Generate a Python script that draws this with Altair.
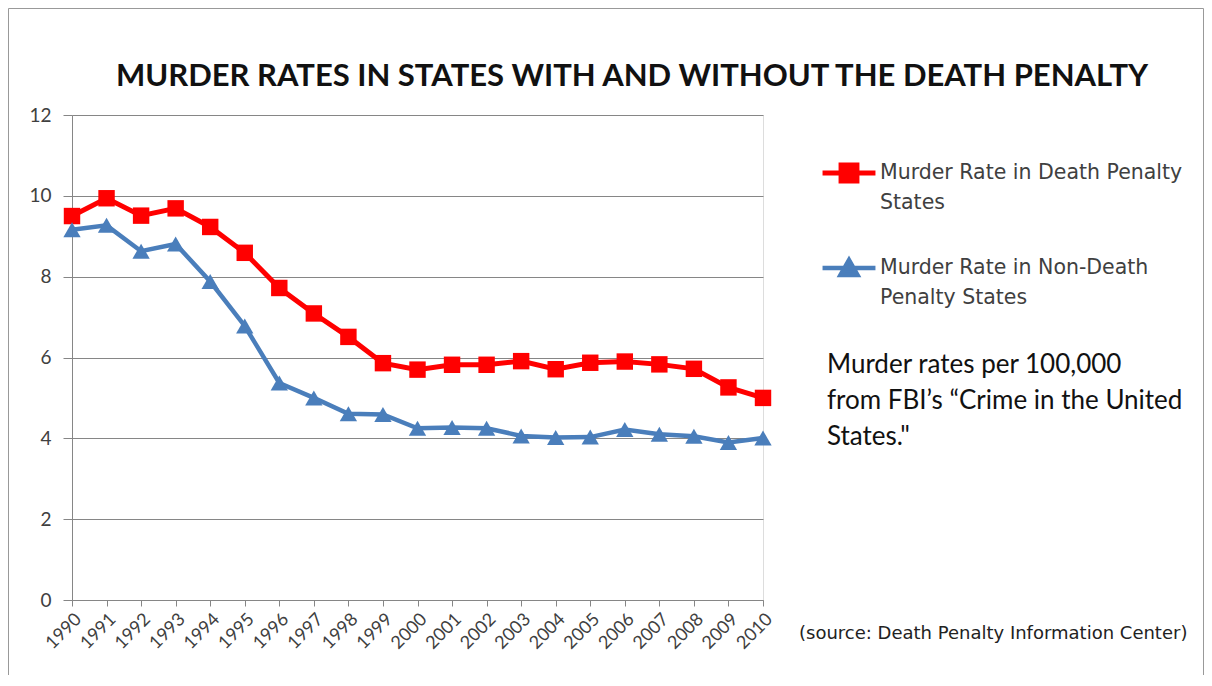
import altair as alt
import pandas as pd

years = list(range(1990, 2011))
death_penalty = [9.50, 9.94, 9.51, 9.69, 9.23, 8.59, 7.72, 7.09, 6.51, 5.86, 5.70,
                 5.82, 5.82, 5.91, 5.71, 5.87, 5.90, 5.83, 5.72, 5.26, 5.00]
non_death_penalty = [9.16, 9.27, 8.63, 8.81, 7.88, 6.78, 5.37, 5.00, 4.61, 4.59, 4.25,
                     4.27, 4.25, 4.06, 4.02, 4.03, 4.22, 4.10, 4.05, 3.90, 4.01]
series_names = ["Murder Rate in Death Penalty States",
                "Murder Rate in Non-Death Penalty States"]
series_lines = [["Murder Rate in Death Penalty", "States"],
                ["Murder Rate in Non-Death", "Penalty States"]]
series_colors = ["#ff0000", "#4a7ebb"]
series_shapes = ["square", "triangle-up"]
y_ticks = [0, 2, 4, 6, 8, 10, 12]
title_text = "MURDER RATES IN STATES WITH AND WITHOUT THE DEATH PENALTY"
note_lines = ["Murder rates per 100,000", "from FBI\u2019s \u201cCrime in the United", "States.\""]
source_text = "(source: Death Penalty Information Center)"

rows = []
for name, vals in zip(series_names, [death_penalty, non_death_penalty]):
    for y, v in zip(years, vals):
        rows.append({"year": y, "rate": v, "series": name})
df = pd.DataFrame(rows)

label_expr = (
    f"datum.label == '{series_names[0]}' ? {series_lines[0]} : {series_lines[1]}"
)
# legend glyphs: line with marker in the middle
path_sq = "M-1,0.38L-0.3,0.38M0.3,0.38L1,0.38M-0.3,0.08L0.3,0.08L0.3,0.68L-0.3,0.68Z"
path_tri = "M-1,0.38L1,0.38M-0.32,0.64L0,0.08L0.32,0.64Z"

legend = alt.Legend(
    title=None, orient="none", legendX=748, legendY=19, direction="vertical",
    labelExpr=label_expr, labelFont="DejaVu Sans", labelFontSize=20.5, labelColor="#404040",
    labelLimit=400, labelBaseline="top", labelOffset=2, rowPadding=15,
    symbolSize=2800, symbolStrokeWidth=4, symbolOpacity=1,
)

color_scale = alt.Scale(domain=series_names, range=series_colors)

x_enc = alt.X("year:Q", scale=alt.Scale(domain=[1990, 2010], nice=False, zero=False),
              axis=alt.Axis(values=years, format="d", labelAngle=-45, grid=False,
                            tickSize=6, tickColor="#868686", domainColor="#868686",
                            labelFont="Lato", labelFontSize=18, labelColor="#404040",
                            labelPadding=4, title=None, labelOverlap=False))
y_enc = alt.Y("rate:Q", scale=alt.Scale(domain=[0, 12], nice=False),
              axis=alt.Axis(values=y_ticks, grid=True, gridColor="#868686", gridWidth=1,
                            tickSize=9, tickColor="#868686", domainColor="#868686",
                            labelFont="Lato", labelFontSize=19, labelColor="#404040",
                            labelPadding=12, title=None))

base = alt.Chart(df)
lines = base.mark_line().encode(
    x=x_enc, y=y_enc,
    color=alt.Color("series:N", scale=color_scale, legend=legend),
    strokeWidth=alt.StrokeWidth("series:N", scale=alt.Scale(domain=series_names, range=[5, 4.5]), legend=None),
)
pts_red = base.transform_filter(alt.datum.series == series_names[0]).mark_point(
    filled=True, opacity=1, shape=series_shapes[0], size=270).encode(
    x=x_enc, y=y_enc, color=alt.Color("series:N", scale=color_scale, legend=legend))
pts_blue = base.transform_filter(alt.datum.series == series_names[1]).mark_point(
    filled=True, opacity=1, shape=series_shapes[1], size=300).encode(
    x=x_enc, y=y_enc, color=alt.Color("series:N", scale=color_scale, legend=legend))

legend_layer = base.transform_filter("false").mark_point(
    filled=True, opacity=1, size=2800, strokeWidth=4).encode(
    x=x_enc, y=y_enc,
    color=alt.Color("series:N", scale=color_scale, legend=legend),
    stroke=alt.Stroke("series:N", scale=color_scale, legend=legend),
    shape=alt.Shape("series:N", scale=alt.Scale(domain=series_names, range=[path_sq, path_tri]),
                    legend=legend),
)

title = alt.Chart(pd.DataFrame({"t": [title_text]})).mark_text(
    align="center", baseline="middle", font="Lato", fontSize=31, fontWeight="bold",
    color="#111111",
).encode(text="t", x=alt.value(560), y=alt.value(-38))

note = alt.Chart(pd.DataFrame({"t": [note_lines]})).mark_text(
    align="left", baseline="top", font="Lato", fontSize=26, color="#111111", lineHeight=36,
).encode(text="t", x=alt.value(755), y=alt.value(237))

source = alt.Chart(pd.DataFrame({"t": [source_text]})).mark_text(
    align="left", baseline="middle", font="DejaVu Sans", fontSize=18, color="#222222",
).encode(text="t", x=alt.value(727), y=alt.value(519))

frame_df = pd.DataFrame({"k": [0]})
frame_left = alt.Chart(frame_df).mark_rule(color="#999999", strokeWidth=1).encode(
    x=alt.value(-63.5), y=alt.value(-106.5), y2=alt.value(560))
frame_top = alt.Chart(frame_df).mark_rule(color="#999999", strokeWidth=1).encode(
    x=alt.value(-63.5), x2=alt.value(1131.5), y=alt.value(-106.5))
frame_right = alt.Chart(frame_df).mark_rule(color="#999999", strokeWidth=1).encode(
    x=alt.value(1131.5), y=alt.value(-106.5), y2=alt.value(560))

chart = alt.layer(frame_left, frame_top, frame_right, lines, pts_red, pts_blue,
                  legend_layer, title, note, source).properties(
    width=691, height=485,
    padding=0,
).configure_view(stroke=None).configure(
    background="white",
    style={"guide-label": {"lineHeight": 30}},
)

chart.save("out.html", embed_options={"renderer": "svg", "actions": False})
